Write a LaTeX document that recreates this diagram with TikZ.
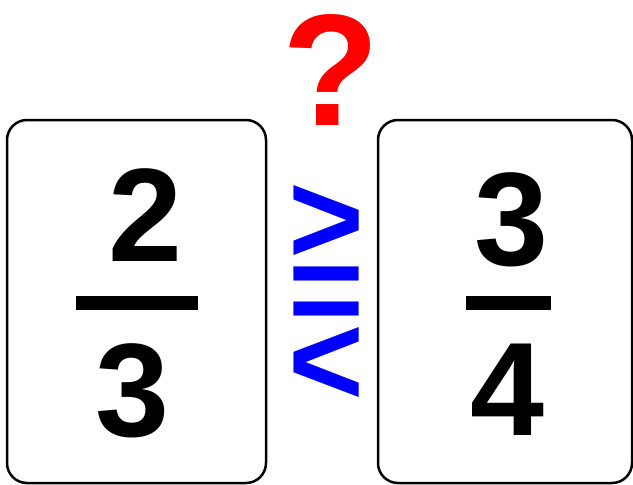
\documentclass[tikz,border=0pt]{standalone}
\usepackage{fontspec}
\setmainfont{Liberation Sans}
\usetikzlibrary{positioning}
\definecolor{azulSigno}{RGB}{0,0,255}
\definecolor{rojoPregunta}{RGB}{255,0,0}
\newcommand\sinSalto{\lineskiplimit=-200pt\relax}

\begin{document}
\begin{tikzpicture}[
  x=1pt, y=-1pt,
  carta/.style  = {draw, line width=2.5pt, rounded corners=20pt,
                   minimum height=363pt, inner sep=0pt},
  cifra/.style  = {font=\fontsize{133}{133}\selectfont\bfseries, inner sep=0pt},
  signo/.style  = {font={\fontsize{130}{71}\selectfont\bfseries\sinSalto},
                   text=azulSigno, inner sep=0pt, align=center},
  raya/.style   = {fill=black},
]
\useasboundingbox (0,0) rectangle (633,485);
% ── Cartas ───────────────────────────────────────────────────
\node[carta, minimum width=259pt] (izq) at (136.5,301.5) {};
\node[carta, minimum width=254pt] (der) at (505,301.5)   {};

% ── Fracciones ───────────────────────────────────────────────
\node[cifra] (numI) at (145,215.5)   {2};
\node[cifra] (denI) at (132.5,391)   {3};
\fill[raya] (76,296) rectangle (198,310);

\node[cifra] (numD) at (511.5,219.5) {3};
\node[cifra] (denD) at (507.5,389.5) {4};
\fill[raya] (466,296) rectangle (551,310);

% ── Signos ───────────────────────────────────────────────────
\node[font=\fontsize{159}{159}\selectfont\bfseries, text=rojoPregunta,
      inner sep=0pt] (preg) at (331,70) {?};
\node[signo] (signos) at (326,295) {>\\=\\<};

\end{tikzpicture}
\end{document}
